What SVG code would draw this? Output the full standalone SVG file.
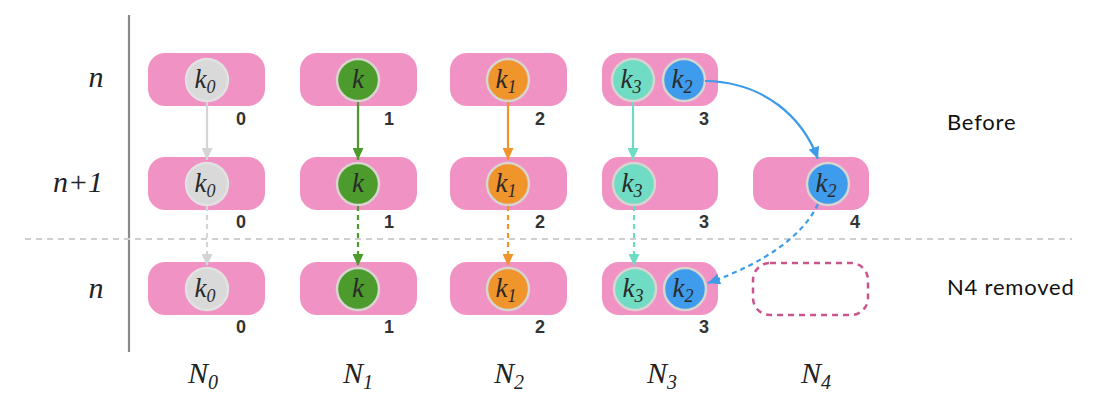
<svg xmlns="http://www.w3.org/2000/svg" width="1114" height="420" viewBox="0 0 1114 420">
<defs>
<marker id="aGray" markerUnits="userSpaceOnUse" markerWidth="12" markerHeight="11" refX="12" refY="5.5" orient="auto"><path d="M0,0 L12,5.5 L0,11 z" fill="#d4d4d4"/></marker>
<marker id="aGreen" markerUnits="userSpaceOnUse" markerWidth="12" markerHeight="11" refX="12" refY="5.5" orient="auto"><path d="M0,0 L12,5.5 L0,11 z" fill="#4c9b2c"/></marker>
<marker id="aOrange" markerUnits="userSpaceOnUse" markerWidth="12" markerHeight="11" refX="12" refY="5.5" orient="auto"><path d="M0,0 L12,5.5 L0,11 z" fill="#f0942c"/></marker>
<marker id="aTeal" markerUnits="userSpaceOnUse" markerWidth="12" markerHeight="11" refX="12" refY="5.5" orient="auto"><path d="M0,0 L12,5.5 L0,11 z" fill="#6ddcc4"/></marker>
<marker id="aBlue" markerUnits="userSpaceOnUse" markerWidth="12" markerHeight="11" refX="12" refY="5.5" orient="auto"><path d="M0,0 L12,5.5 L0,11 z" fill="#3d9be9"/></marker>
</defs>

<g id="axes">
<line x1="129" y1="15" x2="129" y2="352" stroke="#8a8a8a" stroke-width="2.2"/>
<line x1="25" y1="239" x2="1072" y2="239" stroke="#cfcfcf" stroke-width="2.2" stroke-dasharray="6 5"/>
<text x="96" y="87" text-anchor="middle" font-family="Liberation Serif" font-style="italic" font-size="30" fill="#222">n</text>
<text x="78" y="192" text-anchor="middle" font-family="Liberation Serif" font-style="italic" font-size="30" fill="#222">n+1</text>
<text x="96" y="298" text-anchor="middle" font-family="Liberation Serif" font-style="italic" font-size="30" fill="#222">n</text>
<text x="188" y="383" font-family="Liberation Serif" font-style="italic" font-size="30" fill="#222">N<tspan font-size="20" dy="6">0</tspan></text>
<text x="343" y="383" font-family="Liberation Serif" font-style="italic" font-size="30" fill="#222">N<tspan font-size="20" dy="6">1</tspan></text>
<text x="494" y="383" font-family="Liberation Serif" font-style="italic" font-size="30" fill="#222">N<tspan font-size="20" dy="6">2</tspan></text>
<text x="647" y="383" font-family="Liberation Serif" font-style="italic" font-size="30" fill="#222">N<tspan font-size="20" dy="6">3</tspan></text>
<text x="801" y="383" font-family="Liberation Serif" font-style="italic" font-size="30" fill="#222">N<tspan font-size="20" dy="6">4</tspan></text>
<text x="947" y="130" font-family="Lato" font-size="22" letter-spacing="0.8" fill="#111">Before</text>
<text x="947" y="295" font-family="Lato" font-size="22" letter-spacing="0.8" fill="#111">N4 removed</text>
</g>

<!-- row n (before) -->
<g id="r1n0"><rect fill="#f192c4" x="148" y="53" width="117" height="53" rx="17"/><circle fill="#d9d9d9" stroke="#e2e2e2" stroke-width="2.5" cx="207" cy="80" r="21"/><text x="205" y="88" text-anchor="middle" font-family="Liberation Serif" font-style="italic" font-size="27" fill="#2a2a2a">k<tspan font-size="18" dy="5">0</tspan></text><text x="241" y="125" text-anchor="middle" font-family="Liberation Sans" font-weight="bold" font-size="18" fill="#333">0</text></g>
<g id="r1n1"><rect fill="#f192c4" x="300" y="53" width="117" height="53" rx="17"/><circle fill="#4c9b2c" stroke="#d8d4d0" stroke-width="2.5" cx="358" cy="80" r="21"/><text x="358" y="88" text-anchor="middle" font-family="Liberation Serif" font-style="italic" font-size="27" fill="#2a2a2a">k</text><text x="389" y="125" text-anchor="middle" font-family="Liberation Sans" font-weight="bold" font-size="18" fill="#333">1</text></g>
<g id="r1n2"><rect fill="#f192c4" x="450" y="53" width="117" height="53" rx="17"/><circle fill="#f0942c" stroke="#d8d4d0" stroke-width="2.5" cx="508" cy="80" r="21"/><text x="506" y="88" text-anchor="middle" font-family="Liberation Serif" font-style="italic" font-size="27" fill="#2a2a2a">k<tspan font-size="18" dy="5">1</tspan></text><text x="540" y="125" text-anchor="middle" font-family="Liberation Sans" font-weight="bold" font-size="18" fill="#333">2</text></g>
<g id="r1n3"><rect fill="#f192c4" x="602" y="53" width="116" height="53" rx="17"/><circle fill="#70dcc4" stroke="#d8d4d0" stroke-width="2.5" cx="633" cy="80" r="21"/><text x="631" y="88" text-anchor="middle" font-family="Liberation Serif" font-style="italic" font-size="27" fill="#2a2a2a">k<tspan font-size="18" dy="5">3</tspan></text><circle fill="#3f9cec" stroke="#d8d4d0" stroke-width="2.5" cx="684" cy="80" r="21"/><text x="682" y="88" text-anchor="middle" font-family="Liberation Serif" font-style="italic" font-size="27" fill="#2a2a2a">k<tspan font-size="18" dy="5">2</tspan></text><text x="704" y="125" text-anchor="middle" font-family="Liberation Sans" font-weight="bold" font-size="18" fill="#333">3</text></g>

<!-- row n+1 -->
<g id="r2n0"><rect fill="#f192c4" x="148" y="157" width="117" height="53" rx="17"/><circle fill="#d9d9d9" stroke="#e2e2e2" stroke-width="2.5" cx="207" cy="184" r="21"/><text x="205" y="192" text-anchor="middle" font-family="Liberation Serif" font-style="italic" font-size="27" fill="#2a2a2a">k<tspan font-size="18" dy="5">0</tspan></text><text x="241" y="228" text-anchor="middle" font-family="Liberation Sans" font-weight="bold" font-size="18" fill="#333">0</text></g>
<g id="r2n1"><rect fill="#f192c4" x="300" y="157" width="117" height="53" rx="17"/><circle fill="#4c9b2c" stroke="#d8d4d0" stroke-width="2.5" cx="358" cy="184" r="21"/><text x="358" y="192" text-anchor="middle" font-family="Liberation Serif" font-style="italic" font-size="27" fill="#2a2a2a">k</text><text x="389" y="228" text-anchor="middle" font-family="Liberation Sans" font-weight="bold" font-size="18" fill="#333">1</text></g>
<g id="r2n2"><rect fill="#f192c4" x="450" y="157" width="117" height="53" rx="17"/><circle fill="#f0942c" stroke="#d8d4d0" stroke-width="2.5" cx="508" cy="184" r="21"/><text x="506" y="192" text-anchor="middle" font-family="Liberation Serif" font-style="italic" font-size="27" fill="#2a2a2a">k<tspan font-size="18" dy="5">1</tspan></text><text x="540" y="228" text-anchor="middle" font-family="Liberation Sans" font-weight="bold" font-size="18" fill="#333">2</text></g>
<g id="r2n3"><rect fill="#f192c4" x="602" y="157" width="116" height="53" rx="17"/><circle fill="#70dcc4" stroke="#d8d4d0" stroke-width="2.5" cx="634" cy="184" r="21"/><text x="632" y="192" text-anchor="middle" font-family="Liberation Serif" font-style="italic" font-size="27" fill="#2a2a2a">k<tspan font-size="18" dy="5">3</tspan></text><text x="704" y="228" text-anchor="middle" font-family="Liberation Sans" font-weight="bold" font-size="18" fill="#333">3</text></g>
<g id="r2n4"><rect fill="#f192c4" x="753" y="157" width="116" height="53" rx="17"/><circle fill="#3f9cec" stroke="#d8d4d0" stroke-width="2.5" cx="828" cy="184" r="21"/><text x="826" y="192" text-anchor="middle" font-family="Liberation Serif" font-style="italic" font-size="27" fill="#2a2a2a">k<tspan font-size="18" dy="5">2</tspan></text><text x="855" y="228" text-anchor="middle" font-family="Liberation Sans" font-weight="bold" font-size="18" fill="#333">4</text></g>

<!-- row n (after) -->
<g id="r3n0"><rect fill="#f192c4" x="148" y="262" width="117" height="53" rx="17"/><circle fill="#d9d9d9" stroke="#e2e2e2" stroke-width="2.5" cx="207" cy="289" r="21"/><text x="205" y="297" text-anchor="middle" font-family="Liberation Serif" font-style="italic" font-size="27" fill="#2a2a2a">k<tspan font-size="18" dy="5">0</tspan></text><text x="241" y="333" text-anchor="middle" font-family="Liberation Sans" font-weight="bold" font-size="18" fill="#333">0</text></g>
<g id="r3n1"><rect fill="#f192c4" x="300" y="262" width="117" height="53" rx="17"/><circle fill="#4c9b2c" stroke="#d8d4d0" stroke-width="2.5" cx="358" cy="289" r="21"/><text x="358" y="297" text-anchor="middle" font-family="Liberation Serif" font-style="italic" font-size="27" fill="#2a2a2a">k</text><text x="389" y="333" text-anchor="middle" font-family="Liberation Sans" font-weight="bold" font-size="18" fill="#333">1</text></g>
<g id="r3n2"><rect fill="#f192c4" x="450" y="262" width="117" height="53" rx="17"/><circle fill="#f0942c" stroke="#d8d4d0" stroke-width="2.5" cx="508" cy="289" r="21"/><text x="506" y="297" text-anchor="middle" font-family="Liberation Serif" font-style="italic" font-size="27" fill="#2a2a2a">k<tspan font-size="18" dy="5">1</tspan></text><text x="540" y="333" text-anchor="middle" font-family="Liberation Sans" font-weight="bold" font-size="18" fill="#333">2</text></g>
<g id="r3n3"><rect fill="#f192c4" x="602" y="262" width="116" height="53" rx="17"/><circle fill="#70dcc4" stroke="#d8d4d0" stroke-width="2.5" cx="635" cy="289" r="21"/><text x="633" y="297" text-anchor="middle" font-family="Liberation Serif" font-style="italic" font-size="27" fill="#2a2a2a">k<tspan font-size="18" dy="5">3</tspan></text><circle fill="#3f9cec" stroke="#d8d4d0" stroke-width="2.5" cx="685" cy="289" r="21"/><text x="683" y="297" text-anchor="middle" font-family="Liberation Serif" font-style="italic" font-size="27" fill="#2a2a2a">k<tspan font-size="18" dy="5">2</tspan></text><text x="704" y="333" text-anchor="middle" font-family="Liberation Sans" font-weight="bold" font-size="18" fill="#333">3</text></g>
<g id="r3n4"><rect fill="none" stroke="#c9558c" stroke-width="2.5" stroke-dasharray="6 5" x="753" y="263" width="115" height="52" rx="17"/></g>

<g id="connectors" fill="none" stroke-width="2.2">
<line x1="207" y1="102" x2="207" y2="160" stroke="#d4d4d4" marker-end="url(#aGray)"/>
<line x1="358" y1="102" x2="358" y2="160" stroke="#4c9b2c" marker-end="url(#aGreen)"/>
<line x1="508" y1="102" x2="508" y2="160" stroke="#f0942c" marker-end="url(#aOrange)"/>
<line x1="633" y1="102" x2="633" y2="160" stroke="#6ddcc4" marker-end="url(#aTeal)"/>
<path d="M705,81 C765,82 803,118 818,159" stroke="#3d9be9" marker-end="url(#aBlue)"/>
<g stroke-dasharray="5 4">
<line x1="207" y1="206" x2="207" y2="266" stroke="#d4d4d4" marker-end="url(#aGray)"/>
<line x1="358" y1="206" x2="358" y2="266" stroke="#4c9b2c" marker-end="url(#aGreen)"/>
<line x1="508" y1="206" x2="508" y2="266" stroke="#f0942c" marker-end="url(#aOrange)"/>
<line x1="634" y1="206" x2="634" y2="266" stroke="#6ddcc4" marker-end="url(#aTeal)"/>
<path d="M818,204 Q795,252 708,283" stroke="#3d9be9" marker-end="url(#aBlue)"/>
</g>
</g>
</svg>
